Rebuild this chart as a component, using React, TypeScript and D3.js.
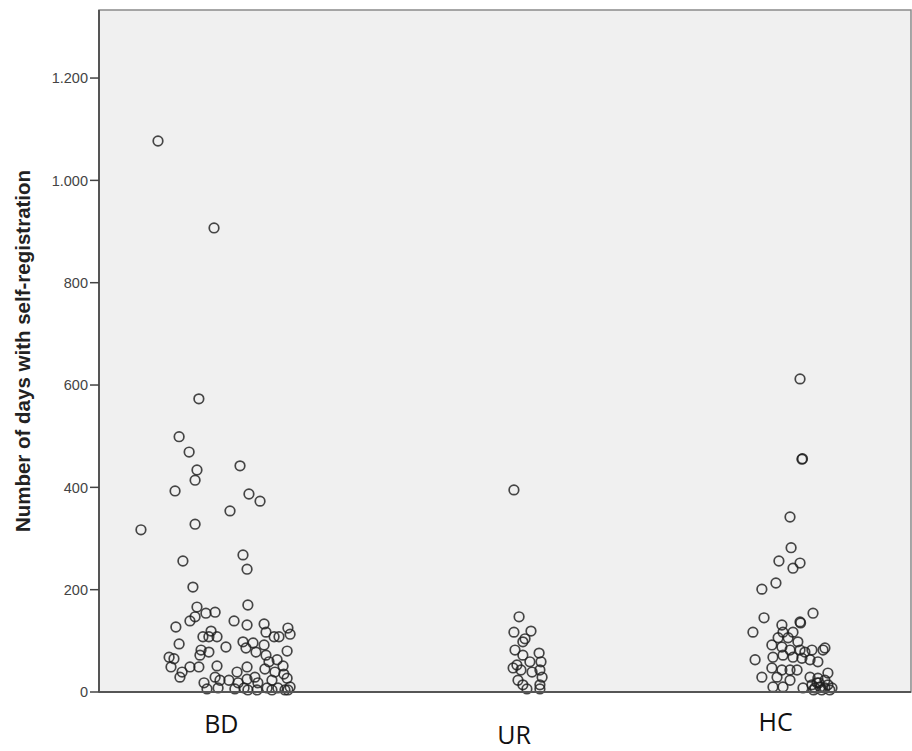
import React from "react";
import * as d3 from "d3";

const categories = ["BD", "UR", "HC"];
const yTicks = [0, 200, 400, 600, 800, 1000, 1200];
const yTitle = "Number of days with self-registration";

// [horizontal position on category axis (jittered), days]
const bdPoints: [number, number][] = [
  [0.218, 1077], [0.425, 907], [0.155, 317], [0.369, 573], [0.296, 499], [0.333, 469],
  [0.362, 434], [0.355, 414], [0.281, 393], [0.521, 442], [0.554, 387], [0.595, 373],
  [0.484, 354], [0.355, 328], [0.31, 256], [0.532, 268], [0.547, 240], [0.347, 205],
  [0.55, 170], [0.362, 166], [0.395, 154], [0.429, 156], [0.355, 147], [0.336, 139],
  [0.284, 127], [0.499, 139], [0.547, 131], [0.61, 133], [0.617, 117], [0.647, 108],
  [0.665, 108], [0.698, 125], [0.706, 113], [0.414, 119], [0.406, 108], [0.436, 108],
  [0.384, 108], [0.296, 94], [0.469, 88], [0.532, 98], [0.543, 86], [0.569, 96],
  [0.61, 92], [0.58, 78], [0.695, 80], [0.377, 82], [0.406, 78], [0.373, 72],
  [0.259, 68], [0.277, 65], [0.266, 49], [0.369, 49], [0.336, 49], [0.307, 39],
  [0.299, 29], [0.436, 51], [0.617, 72], [0.628, 59], [0.658, 63], [0.68, 51],
  [0.613, 45], [0.65, 39], [0.683, 35], [0.547, 49], [0.51, 39], [0.388, 18],
  [0.429, 29], [0.447, 23], [0.48, 23], [0.514, 18], [0.547, 25], [0.576, 29],
  [0.587, 18], [0.639, 23], [0.695, 27], [0.706, 10], [0.399, 6], [0.44, 8],
  [0.502, 6], [0.536, 8], [0.584, 4], [0.621, 8], [0.661, 8], [0.687, 4],
  [0.698, 4], [0.639, 4], [0.55, 4],
];

const urPoints: [number, number][] = [
  [1.533, 395], [1.552, 147], [1.533, 117], [1.596, 119], [1.566, 98], [1.574, 104],
  [1.537, 82], [1.566, 72], [1.626, 76], [1.592, 59], [1.633, 59], [1.544, 53],
  [1.53, 47], [1.559, 43], [1.6, 39], [1.629, 43], [1.637, 29], [1.548, 23],
  [1.566, 14], [1.629, 14], [1.629, 6], [1.581, 6],
];

const hcPoints: [number, number][] = [
  [2.59, 612], [2.597, 455], [2.599, 456], [2.553, 342], [2.557, 282], [2.512, 256],
  [2.564, 242], [2.59, 252], [2.501, 213], [2.449, 201], [2.457, 145], [2.638, 154],
  [2.416, 117], [2.59, 137], [2.592, 135], [2.523, 131], [2.527, 117], [2.564, 117],
  [2.546, 106], [2.509, 106], [2.582, 98], [2.486, 92], [2.523, 88], [2.553, 82],
  [2.59, 82], [2.608, 78], [2.634, 82], [2.682, 86], [2.675, 82], [2.49, 68],
  [2.527, 72], [2.564, 68], [2.597, 66], [2.627, 63], [2.656, 59], [2.424, 63],
  [2.486, 47], [2.523, 43], [2.553, 43], [2.579, 43], [2.449, 29], [2.505, 29],
  [2.553, 23], [2.693, 37], [2.627, 29], [2.656, 27], [2.682, 23], [2.49, 10],
  [2.527, 10], [2.601, 8], [2.634, 14], [2.645, 8], [2.664, 10], [2.682, 8],
  [2.693, 14], [2.708, 8], [2.66, 18], [2.653, 18], [2.64, 4], [2.67, 4], [2.7, 4],
];

const W = 912;
const H = 751;
const plot = { left: 99, right: 911, top: 10, bottom: 692 };

const locale = d3.formatLocale({ decimal: ",", thousands: ".", grouping: [3], currency: ["", ""] });
const fmt = locale.format(",d");

export default function App() {
  const x = d3.scaleLinear().domain([0, 3]).range([plot.left, plot.right]);
  const y = d3.scaleLinear().domain([0, 1333]).range([plot.bottom, plot.top]);
  const all = [...bdPoints, ...urPoints, ...hcPoints];
  const labelNudge = [-13, 9, 0];
  const labelBase = [733, 744, 731];

  return (
    <svg width={W} height={H} style={{ display: "block", background: "#fff" }}>
      <style>{`body{margin:0}`}</style>
      <rect
        x={plot.left}
        y={plot.top}
        width={plot.right - plot.left}
        height={plot.bottom - plot.top}
        fill="#f0f0f0"
        stroke="#8a8a8a"
        strokeWidth={1.5}
      />
      {all.map(([px, v], i) => (
        <circle
          key={i}
          cx={x(px)}
          cy={y(v)}
          r={4.8}
          fill="none"
          stroke="rgba(30,30,30,0.82)"
          strokeWidth={1.7}
        />
      ))}
      <line x1={plot.left} x2={plot.right} y1={y(0)} y2={y(0)} stroke="#555" strokeWidth={2} />
      <line x1={plot.left} x2={plot.left} y1={plot.top} y2={plot.bottom} stroke="#555" strokeWidth={2} />
      {yTicks.map((t) => (
        <g key={t}>
          <line x1={plot.left - 9} x2={plot.left} y1={y(t)} y2={y(t)} stroke="#444" strokeWidth={1.5} />
          <text
            x={plot.left - 11}
            y={y(t)}
            dy="0.36em"
            textAnchor="end"
            fontFamily="Liberation Sans, Arial, sans-serif"
            fontSize={14.5}
            fill="#444"
          >
            {fmt(t)}
          </text>
        </g>
      ))}
      <text
        transform={`translate(30,351) rotate(-90)`}
        textAnchor="middle"
        fontFamily="Liberation Sans, Arial, sans-serif"
        fontWeight="bold"
        fontSize={20.5}
        fill="#222"
      >
        {yTitle}
      </text>
      {categories.map((c, i) => (
        <text
          key={c}
          x={x(i + 0.5) + labelNudge[i]}
          y={labelBase[i]}
          textAnchor="middle"
          fontFamily="Liberation Sans Narrow, Open Sans, sans-serif"
          fontSize={25}
          fill="#111"
        >
          {c}
        </text>
      ))}
    </svg>
  );
}
